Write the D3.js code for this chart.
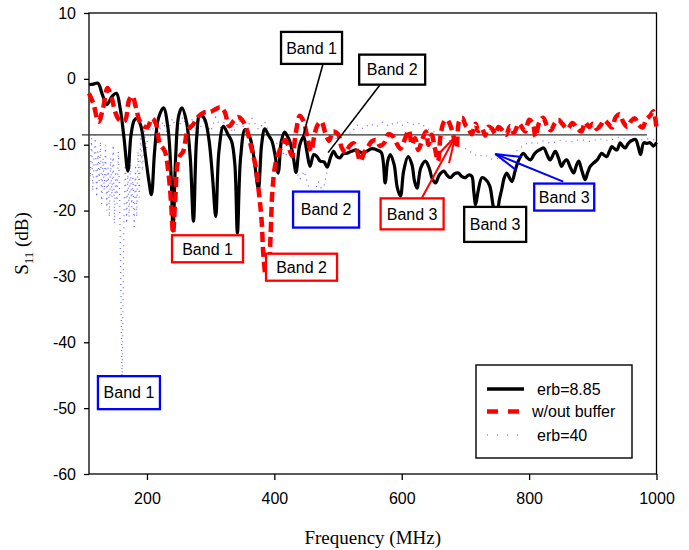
<!DOCTYPE html>
<html>
<head>
<meta charset="utf-8">
<script src="https://cdn.jsdelivr.net/npm/d3@7"></script>
<style>
  html, body { margin: 0; padding: 0; background: #fff; }
  svg { display: block; }
  text { font-family: "Liberation Sans", Arial, sans-serif; }
</style>
</head>
<body>
<svg id="chart" width="689" height="550"></svg>
<script>
// ---- data ------------------------------------------------------------
const freqTicks = [200, 400, 600, 800, 1000];
const dbTicks = [-60, -50, -40, -30, -20, -10, 0, 10];

// S11 [frequency MHz, dB]
const erb885 = [
  [109,-0.9],[116,-0.8],[123,-0.65],[130,-2.4],[137,-3.9],[145,-2.7],[152,-2.2],[158,-4.5],[164,-9],[170,-14.0],
  [175,-8.5],[180,-6.3],[184,-6.0],[190,-7],[196,-10.5],[203,-15.5],[207,-17.6],[212,-11],[218,-6],[226,-4.4],
  [233,-7.5],[238,-15],[241,-23.1],[245,-12],[250,-5.5],[255,-4.4],[262,-6.5],[268,-12],[273,-21.6],[278,-9],
  [283,-5.5],[290,-6],[297,-9],[303,-15],[308,-20.9],[313,-11],[320,-7.2],[327,-8.4],[333,-9.5],[338,-13],
  [342,-23.4],[347,-12],[354,-7.7],[362,-9],[368,-12],[375,-16.7],[380,-10],[385,-7.6],[391,-8.6],[396,-9.4],
  [401,-11.5],[406,-14.3],[411,-9.5],[416,-8.1],[421,-8.8],[425,-9.7],[430,-12],[434,-14.2],[440,-10],[446,-8.8],
  [451,-11],[456,-13.3],[462,-11.5],[467,-11.8],[472,-12.5],[478,-12.6],[483,-13.4],[488,-12],[493,-11.0],[498,-11.8],
  [503,-12.0],[508,-11.4],[514,-11.3],[521,-11.0],[529,-10.8],[537,-11.2],[545,-11.0],[553,-10.6],[561,-10.8],[568,-11.2],
  [574,-15.8],[578,-12.5],[582,-11.5],[588,-13],[593,-16.5],[598,-17.8],[603,-14],[610,-11.8],[616,-13],[620,-15.5],
  [624,-16.6],[630,-13.5],[637,-12.5],[643,-13.5],[648,-15.2],[653,-15.8],[659,-14.6],[666,-14.0],[671,-14.6],[676,-15.0],
  [683,-14.4],[689,-14.3],[694,-14.8],[700,-15.0],[705,-14.6],[710,-14.8],[713,-17],[716,-19.1],[720,-17],[726,-15.0],
  [732,-15.3],[738,-16.2],[744,-19.5],[749,-20.9],[753,-18.5],[757,-16.8],[761,-15],[765,-14.3],[769,-15],[773,-15.6],
  [778,-14],[783,-12.5],[791,-11.3],[796,-11.9],[802,-12.3],[809,-11.3],[816,-10.8],[823,-10.5],[828,-11.5],[833,-12.3],
  [841,-11.0],[846,-12],[851,-13.3],[855,-12.6],[859,-12.3],[865,-13.5],[870,-14.3],[874,-13.2],[878,-12.5],[883,-14],
  [888,-15.3],[892,-14.2],[896,-13.3],[901,-12.8],[907,-12.3],[914,-11.3],[918,-11.6],[922,-11.8],[926,-11],[930,-10.3],
  [934,-10.6],[938,-10.8],[943,-9.7],[947,-10.2],[951,-10.5],[955,-9.9],[959,-9.5],[967,-9.2],[971,-10.2],[975,-11.5],
  [980,-9.7],[985,-9.8],[990,-9.7],[995,-10.2],[1000,-9.7]
];

const withoutBuffer = [
  [109,-2.2],[116,-3.8],[124,-6.5],[131,-4.5],[138,-1.4],[145,-3],[150,-5],[157,-6.3],[165,-6.4],[172,-3.2],
  [177,-2.6],[183,-4.5],[188,-6.3],[195,-7.2],[201,-7.3],[208,-6.0],[214,-6.8],[220,-9.8],[228,-11],[234,-14.5],
  [238,-19],[241,-23.5],[244,-19],[250,-12],[257,-11],[264,-7.8],[272,-7],[280,-5.8],[290,-5.1],[300,-5],
  [308,-4.6],[315,-4.3],[322,-5],[329,-7.2],[336,-6.4],[343,-5.8],[349,-6.2],[356,-7.5],[364,-10.5],[370,-13],
  [376,-17.5],[380,-21.5],[383,-27],[387,-30],[391,-29],[394,-24],[397,-17],[402,-12.8],[410,-10.5],[417,-9.3],
  [422,-10.2],[428,-11.7],[434,-8],[440,-5.6],[446,-6.5],[452,-9],[458,-11],[463,-8.5],[468,-7],[474,-6.5],
  [480,-8.2],[486,-9.4],[492,-8],[500,-8.4],[506,-10.5],[512,-11.2],[518,-10.2],[525,-9.8],[530,-11],[535,-12.5],
  [541,-11.2],[547,-10.3],[553,-9.5],[560,-9.3],[566,-10.2],[572,-9.8],[579,-8.4],[586,-8.7],[592,-9.8],[598,-10.6],
  [604,-9.4],[611,-7.8],[616,-10],[621,-9],[626,-10.8],[632,-9.3],[638,-8],[642,-10],[647,-8.5],[652,-10.5],
  [657,-12.5],[661,-8.6],[666,-6.6],[671,-6.2],[676,-7],[682,-9],[686,-10.5],[690,-6.5],[695,-5.9],[700,-7],
  [705,-7.6],[710,-8.4],[716,-6.8],[720,-7.9],[726,-7.5],[731,-8.6],[736,-7.3],[742,-7.6],[747,-8.4],[752,-7.3],
  [758,-7.8],[764,-8.5],[770,-7.2],[776,-8.2],[784,-6.8],[789,-7.4],[794,-8],[800,-6.2],[806,-6.8],[810,-8.8],
  [816,-6.6],[822,-5.9],[828,-7.1],[834,-7.8],[840,-6.8],[846,-6.2],[852,-6.8],[860,-7.6],[868,-6.7],[874,-7.3],
  [882,-8],[888,-6.6],[894,-7.3],[900,-6.8],[906,-7.6],[912,-7.1],[918,-6.3],[924,-6.8],[930,-7.4],[936,-5.8],
  [942,-5.4],[948,-6.6],[954,-7.3],[960,-6.4],[966,-6.0],[972,-7.0],[978,-7.4],[984,-6.2],[990,-5.6],[995,-4.9],
  [1000,-7.5]
];

const erb40 = [
  [109,-11],[111,-15],[113,-9],[115,-17],[117,-12],[119,-8.5],[121,-18],[123,-11],[125,-15.5],[127,-9.5],
  [129,-19],[131,-12],[133,-17],[135,-10],[137,-20],[139,-13.5],[141,-21],[143,-12],[145,-18],[147,-10],
  [149,-22],[151,-14],[153,-19],[155,-11],[157,-17],[161,-46.5],[164,-20],[166,-13],[168,-22],[170,-14.5],
  [172,-21],[174,-12],[176,-19.5],[178,-15],[180,-22.5],[182,-13],[184,-21],[186,-11],[188,-18],[190,-9],
  [193,-14],[196,-7.5],[199,-11],[203,-6.8],[207,-9],[212,-6],[218,-8.2],[225,-6.5],[232,-8.4],[240,-6],
  [248,-8],[256,-5.8],[264,-7.6],[272,-6],[280,-8.2],[290,-6.2],[300,-8],[308,-5.8],[316,-7.4],[325,-6],
  [335,-8.2],[345,-6.3],[355,-7.8],[365,-6],[375,-7.7],[385,-6.5],[393,-8.5],[400,-10.3],[408,-9.3],[416,-11.8],
  [424,-11],[432,-13.5],[440,-15.3],[447,-14],[454,-16.5],[462,-17.5],[469,-15.6],[476,-17.2],[483,-14],[490,-11.5],
  [497,-9],[504,-8.6],[512,-7.8],[520,-8.3],[530,-7],[540,-7.6],[550,-6.8],[560,-7.3],[570,-6.6],[580,-7.2],
  [590,-6.5],[600,-7.1],[610,-6.6],[620,-7],[630,-6.7],[640,-7.6],[650,-8],[660,-8.7],[670,-9.2],[680,-9.6],
  [690,-10.2],[700,-10.6],[710,-11.2],[720,-11.8],[730,-11.5],[740,-12.2],[750,-12.1],[760,-12.5],[770,-12.1],[780,-11],
  [790,-10.2],[800,-9.6],[810,-9.9],[820,-9.4],[835,-9.8],[850,-9.3],[865,-9.6],[880,-9.2],[895,-9.5],[910,-9.1],
  [925,-9.4],[940,-8.9],[955,-9.2],[970,-9.4],[985,-9.1],[1000,-9.3]
];

// reference level drawn across the plot
const refLevel = [[98, -8.5], [985, -8.5]];

const legendLabels = ["erb=8.85", "w/out buffer", "erb=40"];

// callout boxes: centre (f, dB), box size, optional leader from/to (f, dB)
const notes = [
  { text: "Band 1", color: "#000", f: 458.4, db: 4.7,   w: 61, h: 32, from: [476.5, 2.3],  to: [443.5, -9.2] },
  { text: "Band 2", color: "#000", f: 585,   db: 1.4,   w: 66, h: 30, from: [566, -0.9],   to: [484.4, -11.2] },
  { text: "Band 3", color: "#000", f: 746.7, db: -22.1, w: 62, h: 35 },
  { text: "Band 1", color: "#f00", f: 295.1, db: -25.8, w: 71, h: 27 },
  { text: "Band 2", color: "#f00", f: 442.7, db: -28.6, w: 71, h: 27 },
  { text: "Band 3", color: "#f00", f: 616.3, db: -20.5, w: 63, h: 31, from: [631.6, -18.1], to: [683.9, -8.8], arrow: true },
  { text: "Band 1", color: "#00f", f: 171.7, db: -47.65, w: 62, h: 33 },
  { text: "Band 2", color: "#00f", f: 481.2, db: -19.85, w: 66, h: 36 },
  { text: "Band 3", color: "#00f", f: 855.1, db: -17.95, w: 60, h: 27, from: [853.6, -15.6], to: [746.7, -11.4], arrow: true }
];

// ---- layout ----------------------------------------------------------
const svg = d3.select("#chart");
const x = d3.scaleLinear().domain([109, 1000]).range([89, 656.5]);
const y = d3.scaleLinear().domain([-60, 10]).range([474, 13]);

const plainNum = d => (d < 0 ? "-" + Math.abs(d) : String(d));

// axes
const xAxis = d3.axisBottom(x).tickValues(freqTicks).tickFormat(plainNum)
  .tickSize(6).tickSizeOuter(0).tickPadding(13);
const yAxis = d3.axisLeft(y).tickValues(dbTicks).tickFormat(plainNum)
  .tickSize(5).tickSizeOuter(0).tickPadding(8);

const gx = svg.append("g").attr("transform", `translate(0,${y(-60)})`).call(xAxis);
const gy = svg.append("g").attr("transform", `translate(${x(109)},0)`).call(yAxis);
[gx, gy].forEach(g => {
  g.select(".domain").remove();
  g.selectAll(".tick line").attr("stroke", "#000").attr("stroke-width", 1.3);
  g.selectAll(".tick text").attr("fill", "#000").style("font-size", "16px")
    .style("font-family", '"Liberation Sans", Arial, sans-serif');
});

// plot frame
svg.append("rect")
  .attr("x", x(109)).attr("y", y(10))
  .attr("width", x(1000) - x(109)).attr("height", y(-60) - y(10))
  .attr("fill", "none").attr("stroke", "#000").attr("stroke-width", 1.3);

// axis titles
svg.append("text")
  .attr("x", (x(109) + x(1000)) / 2).attr("y", 544)
  .attr("text-anchor", "middle")
  .style("font-family", '"Liberation Serif", "Times New Roman", serif')
  .style("font-size", "19px")
  .text("Frequency (MHz)");

const yt = svg.append("text")
  .attr("transform", `translate(28,${(y(10) + y(-60)) / 2}) rotate(-90)`)
  .attr("text-anchor", "middle")
  .style("font-family", '"Liberation Serif", "Times New Roman", serif')
  .style("font-size", "19px");
yt.append("tspan").text("S");
yt.append("tspan").attr("dy", 5).style("font-size", "13px").text("11");
yt.append("tspan").attr("dy", -5).text(" (dB)");

// ---- series ----------------------------------------------------------
const smooth = d3.line().x(d => x(d[0])).y(d => y(d[1])).curve(d3.curveCatmullRom.alpha(0.5));
const straight = d3.line().x(d => x(d[0])).y(d => y(d[1]));

svg.append("path").datum(refLevel).attr("d", straight)
  .attr("fill", "none").attr("stroke", "#333").attr("stroke-width", 1.4);

svg.append("path").datum(erb40).attr("d", straight)
  .attr("fill", "none").attr("stroke", "#5050ff").attr("stroke-width", 1.2)
  .attr("stroke-opacity", 0.85).attr("stroke-dasharray", "1,5");

svg.append("path").datum(erb885).attr("d", smooth)
  .attr("fill", "none").attr("stroke", "#000").attr("stroke-width", 3.2)
  .attr("stroke-linejoin", "round");

svg.append("path").datum(withoutBuffer).attr("d", smooth)
  .attr("fill", "none").attr("stroke", "#f00").attr("stroke-width", 4.5)
  .attr("stroke-dasharray", "10,5");

// ---- callouts --------------------------------------------------------
notes.forEach(n => {
  if (n.from) {
    const x1 = x(n.from[0]), y1 = y(n.from[1]), x2 = x(n.to[0]), y2 = y(n.to[1]);
    svg.append("line").attr("x1", x1).attr("y1", y1).attr("x2", x2).attr("y2", y2)
      .attr("stroke", n.color).attr("stroke-width", n.arrow ? 2 : 1.6);
    if (n.arrow) {
      const ang = Math.atan2(y1 - y2, x1 - x2), len = 27, spread = 0.27;
      [-spread, spread].forEach(s => {
        svg.append("line").attr("x1", x2).attr("y1", y2)
          .attr("x2", x2 + len * Math.cos(ang + s)).attr("y2", y2 + len * Math.sin(ang + s))
          .attr("stroke", n.color).attr("stroke-width", 2);
      });
    }
  }
  const cx = x(n.f), cy = y(n.db);
  svg.append("rect")
    .attr("x", cx - n.w / 2).attr("y", cy - n.h / 2)
    .attr("width", n.w).attr("height", n.h)
    .attr("fill", "#fff").attr("stroke", n.color).attr("stroke-width", 2.3);
  svg.append("text")
    .attr("x", cx).attr("y", cy).attr("dy", "0.36em")
    .attr("text-anchor", "middle").style("font-size", "16px").attr("fill", "#000")
    .text(n.text);
});

// ---- legend ----------------------------------------------------------
const lg = svg.append("g").attr("transform", "translate(476,365)");
lg.append("rect").attr("width", 156).attr("height", 93)
  .attr("fill", "#fff").attr("stroke", "#000").attr("stroke-width", 1.4);
const legendStyles = [
  { stroke: "#000", width: 3.5, dash: null },
  { stroke: "#f00", width: 4.5, dash: "11,10" },
  { stroke: "#5050ff", width: 1.2, dash: "1,9" }
];
const rowY = [24, 46.5, 70];
const textX = [61, 56, 61];
legendLabels.forEach((lab, i) => {
  const st = legendStyles[i];
  lg.append("line").attr("x1", 11).attr("x2", 48).attr("y1", rowY[i]).attr("y2", rowY[i])
    .attr("stroke", st.stroke).attr("stroke-width", st.width)
    .attr("stroke-dasharray", st.dash);
  lg.append("text").attr("x", textX[i]).attr("y", rowY[i]).attr("dy", "0.36em")
    .style("font-size", "16px").attr("fill", "#000").text(lab);
});
</script>
</body>
</html>
